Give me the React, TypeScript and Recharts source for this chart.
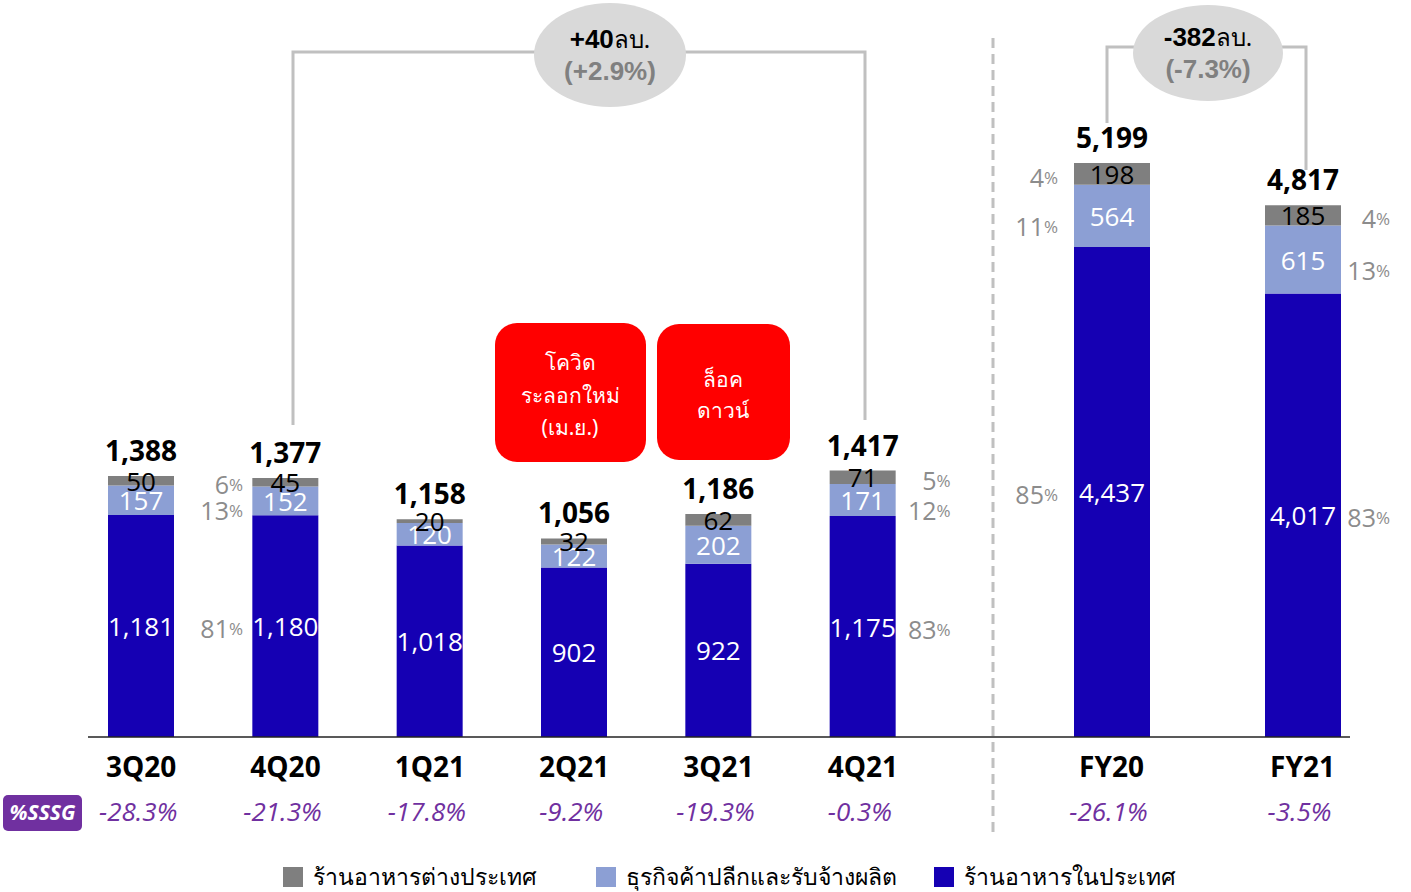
import React from "react";
import { BarChart, Bar, XAxis, YAxis, LabelList } from "recharts";

// quarterly
const quarters = ["3Q20", "4Q20", "1Q21", "2Q21", "3Q21", "4Q21"];
const qDomestic = [1181, 1180, 1018, 902, 922, 1175];
const qRetail = [157, 152, 120, 122, 202, 171];
const qIntl = [50, 45, 20, 32, 62, 71];
const qTotal = [1388, 1377, 1158, 1056, 1186, 1417];
const qSssg = ["-28.3%", "-21.3%", "-17.8%", "-9.2%", "-19.3%", "-0.3%"];
const qPctIntl = [6, null, null, null, null, 5];
const qPctRetail = [13, null, null, null, null, 12];
const qPctDomestic = [81, null, null, null, null, 83];

// full year
const years = ["FY20", "FY21"];
const yDomestic = [4437, 4017];
const yRetail = [564, 615];
const yIntl = [198, 185];
const yTotal = [5199, 4817];
const ySssg = ["-26.1%", "-3.5%"];
const yPctIntl = [4, 4];
const yPctRetail = [11, 13];
const yPctDomestic = [85, 83];

const series = [
  { key: "intl", name: "ร้านอาหารต่างประเทศ", color: "#7f7f7f" },
  { key: "retail", name: "ธุรกิจค้าปลีกและรับจ้างผลิต", color: "#8c9fd4" },
  { key: "domestic", name: "ร้านอาหารในประเทศ", color: "#1500b3" },
];

const FONT = "'Open Sans', 'Noto Sans', sans-serif";
const THAI = "'Noto Sans', 'DejaVu Sans', sans-serif";
const PURPLE = "#7030a0";
const PCT_GREY = "#8c8c8c";
const LINE_GREY = "#c0c0c0";

const fmt = (v: number) => v.toLocaleString("en-US");

const segLabel = (color: string) => (p: any) => {
  const { x, y, width, height, value } = p;
  if (value == null) return null;
  const top = Math.min(Number(y), Number(y) + Number(height));
  return (
    <text
      x={Number(x) + Number(width) / 2}
      y={top + Math.abs(Number(height)) / 2}
      fill={color}
      fontSize={26}
      fontFamily={FONT}
      textAnchor="middle"
      dominantBaseline="central"
    >
      {fmt(value)}
    </text>
  );
};

const totalLabel = (p: any) => {
  const { x, y, width, value } = p;
  return (
    <text
      x={Number(x) + Number(width) / 2}
      y={Number(y) - 15}
      fill="#000"
      fontSize={28}
      fontWeight={700}
      fontFamily={FONT}
      textAnchor="middle"
    >
      {fmt(value)}
    </text>
  );
};

const pctLabel = (dx: number[], dy: number) => (p: any) => {
  const { x, y, width, height, value, index } = p;
  if (value == null) return null;
  const top = Math.min(Number(y), Number(y) + Number(height));
  return (
    <text
      x={Number(x) + Number(width) / 2 + dx[index]}
      y={top + Math.abs(Number(height)) / 2 + dy}
      fill={PCT_GREY}
      fontSize={25}
      fontFamily={FONT}
      textAnchor="end"
      dominantBaseline="central"
    >
      {value}
      <tspan fontSize={17}>%</tspan>
    </text>
  );
};

const CatTick = (props: any) => {
  const { x, y, payload, sssg } = props;
  return (
    <g>
      <text x={x} y={y + 32} textAnchor="middle" fontSize={28} fontWeight={700} fontFamily={FONT} fill="#000">
        {payload.value}
      </text>
      <text x={x - 3} y={y + 76} textAnchor="middle" fontSize={26} fontStyle="italic" fontFamily={FONT} fill={PURPLE}>
        {sssg[payload.index]}
      </text>
    </g>
  );
};

type StackProps = {
  cats: string[];
  domestic: number[];
  retail: number[];
  intl: number[];
  total: number[];
  sssg: string[];
  pD: (number | null)[];
  pR: (number | null)[];
  pI: (number | null)[];
  pctDx: number[];
  width: number;
  domainMax: number;
  barSize: number;
};

function StackChart(s: StackProps) {
  const data = s.cats.map((c, i) => ({
    cat: c,
    domestic: s.domestic[i],
    retail: s.retail[i],
    intl: s.intl[i],
    total: s.total[i],
    pD: s.pD[i],
    pR: s.pR[i],
    pI: s.pI[i],
  }));
  return (
    <BarChart width={s.width} height={892} data={data} margin={{ top: 0, right: 0, bottom: 0, left: 0 }} barSize={s.barSize}>
      <XAxis dataKey="cat" axisLine={false} tickLine={false} height={155} interval={0} tick={<CatTick sssg={s.sssg} />} />
      <YAxis hide domain={[0, s.domainMax]} allowDataOverflow />
      <Bar dataKey="domestic" stackId="a" fill={series[2].color} isAnimationActive={false}>
        <LabelList dataKey="domestic" content={segLabel("#fff")} />
        <LabelList dataKey="pD" content={pctLabel(s.pctDx, 2)} />
      </Bar>
      <Bar dataKey="retail" stackId="a" fill={series[1].color} isAnimationActive={false}>
        <LabelList dataKey="retail" content={segLabel("#fff")} />
        <LabelList dataKey="pR" content={pctLabel(s.pctDx, 10)} />
      </Bar>
      <Bar dataKey="intl" stackId="a" fill={series[0].color} isAnimationActive={false}>
        <LabelList dataKey="intl" content={segLabel("#000")} />
        <LabelList dataKey="pI" content={pctLabel(s.pctDx, 3)} />
        <LabelList dataKey="total" content={totalLabel} />
      </Bar>
    </BarChart>
  );
}

function Bubble({ cx, cy, rx, ry, head, sub }: { cx: number; cy: number; rx: number; ry: number; head: string; sub: string }) {
  return (
    <g>
      <ellipse cx={cx} cy={cy} rx={rx} ry={ry} fill="#d9d9d9" />
      <text x={cx} y={cy - 7} textAnchor="middle" fontFamily="'Liberation Sans', Arial, sans-serif" fontSize={26} fill="#000">
        <tspan fontWeight={700}>{head}</tspan>
        <tspan fontFamily={THAI} fontSize={24}>ลบ.</tspan>
      </text>
      <text x={cx} y={cy + 25} textAnchor="middle" fontFamily="'Liberation Sans', Arial, sans-serif" fontSize={26} fontWeight={700} fill="#808080">
        {sub}
      </text>
    </g>
  );
}

function Overlay() {
  return (
    <svg width={1411} height={892} style={{ position: "absolute", left: 0, top: 0, pointerEvents: "none" }}>
      {/* baseline + divider */}
      <line x1={88} x2={1350} y1={737} y2={737} stroke="#222" strokeWidth={1.5} />
      <line x1={993} x2={993} y1={38} y2={832} stroke={LINE_GREY} strokeWidth={3} strokeDasharray="10 6" />

      {/* quarter bracket */}
      <polyline points="293,425 293,52 865,52 865,420" fill="none" stroke={LINE_GREY} strokeWidth={3} />
      <Bubble cx={610} cy={55} rx={76} ry={52} head="+40" sub="(+2.9%)" />

      {/* year bracket */}
      <polyline points="1107,123 1107,47 1306,47 1306,170" fill="none" stroke={LINE_GREY} strokeWidth={3} />
      <Bubble cx={1208} cy={53} rx={75} ry={48} head="-382" sub="(-7.3%)" />

      {/* covid boxes */}
      <rect x={495} y={323} width={151} height={139} rx={22} fill="#ff0000" />
      <text textAnchor="middle" fontFamily={THAI} fontSize={21} fill="#fff">
        <tspan x={570} y={370}>โควิด</tspan>
        <tspan x={570} y={403}>ระลอกใหม่</tspan>
        <tspan x={570} y={435}>(เม.ย.)</tspan>
      </text>
      <rect x={657} y={324} width={133} height={136} rx={22} fill="#ff0000" />
      <text textAnchor="middle" fontFamily={THAI} fontSize={21} fill="#fff">
        <tspan x={723} y={387}>ล็อค</tspan>
        <tspan x={723} y={418}>ดาวน์</tspan>
      </text>

      {/* SSSG badge */}
      <rect x={3} y={795} width={79} height={36} rx={5} fill={PURPLE} />
      <text x={42.5} y={820} textAnchor="middle" fontFamily={FONT} fontSize={21} fontWeight={700} fontStyle="italic" fill="#fff">
        %SSSG
      </text>
    </svg>
  );
}

function LegendRow() {
  const lefts = [283, 596, 934];
  return (
    <>
      {series.map((s, i) => (
        <div
          key={s.key}
          style={{ position: "absolute", left: lefts[i], top: 859, display: "flex", alignItems: "center", fontFamily: THAI, fontSize: 23, color: "#000", whiteSpace: "nowrap" }}
        >
          <span style={{ width: 20, height: 20, background: s.color, display: "inline-block", marginRight: 10 }} />
          {s.name}
        </div>
      ))}
    </>
  );
}

export default function App() {
  return (
    <div style={{ position: "absolute", left: 0, top: 0, width: 1411, height: 892, background: "#fff", overflow: "hidden" }}>
      <style>{`.recharts-surface { overflow: visible; } .recharts-wrapper { overflow: visible; }`}</style>
      <div style={{ position: "absolute", left: 69, top: 0 }}>
        <StackChart
          cats={quarters}
          domestic={qDomestic}
          retail={qRetail}
          intl={qIntl}
          total={qTotal}
          sssg={qSssg}
          pD={qPctDomestic}
          pR={qPctRetail}
          pI={qPctIntl}
          pctDx={[102, 0, 0, 0, 0, 88]}
          width={866}
          domainMax={3920}
          barSize={66}
        />
      </div>
      <div style={{ position: "absolute", left: 1016, top: 0 }}>
        <StackChart
          cats={years}
          domestic={yDomestic}
          retail={yRetail}
          intl={yIntl}
          total={yTotal}
          sssg={ySssg}
          pD={yPctDomestic}
          pR={yPctRetail}
          pI={yPctIntl}
          pctDx={[-54, 87]}
          width={382}
          domainMax={6675}
          barSize={76}
        />
      </div>
      <Overlay />
      <LegendRow />
    </div>
  );
}
